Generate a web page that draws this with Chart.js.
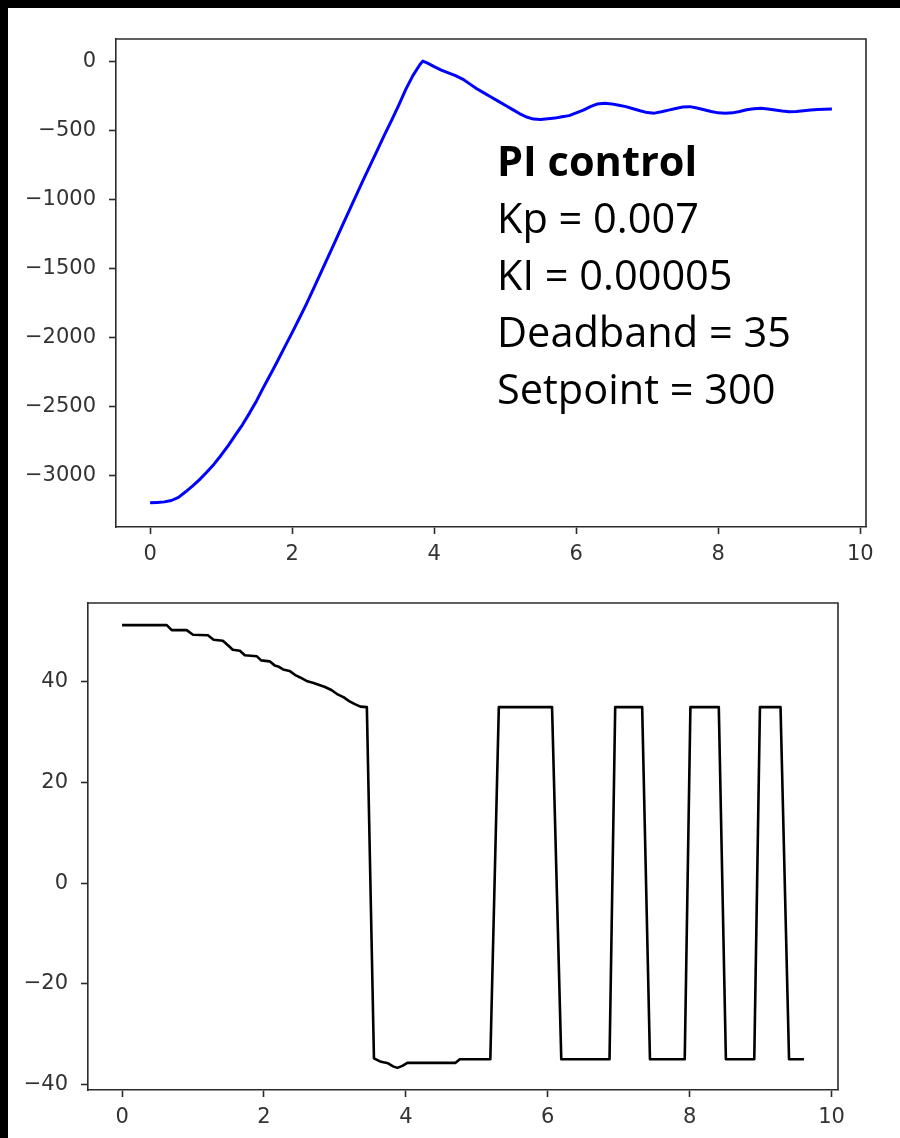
<!DOCTYPE html>
<html>
<head>
<meta charset="utf-8">
<script src="https://cdn.jsdelivr.net/npm/chart.js@4.4.1/dist/chart.umd.min.js"></script>
<style>
  html, body { margin: 0; padding: 0; background: #fff; }
  #page { position: relative; width: 900px; height: 1138px; overflow: hidden; background: #fff; }
  #posChart { position: absolute; left: 0; top: 0; }
  #outChart { position: absolute; left: 0; top: 560px; }
  .edge-top { position: absolute; left: 0; top: 0; width: 900px; height: 8px; background: #000; }
  .edge-left { position: absolute; left: 0; top: 0; width: 8px; height: 1138px; background: #000; }
  #note {
    position: absolute; left: 497px; top: 132px;
    font-family: "Open Sans", Lato, sans-serif; font-size: 41.5px; line-height: 57px;
    color: #000; white-space: nowrap;
  }
  #note b { font-weight: 700; }
</style>
</head>
<body>
<div id="page">
  <canvas id="posChart" width="900" height="560"></canvas>
  <canvas id="outChart" width="900" height="578"></canvas>
  <div id="note"><b>PI control</b><br>Kp = 0.007<br>KI = 0.00005<br>Deadband = 35<br>Setpoint = 300</div>
  <div class="edge-top"></div>
  <div class="edge-left"></div>
</div>
<script>
// Position response (time in s)
const posTime = [
  0.00, 0.10, 0.20, 0.30, 0.40, 0.50, 0.60, 0.70, 0.80, 0.90,
  1.00, 1.10, 1.20, 1.30, 1.40, 1.50, 1.60, 1.70, 1.80, 1.90,
  2.00, 2.10, 2.20, 2.30, 2.40, 2.50, 2.60, 2.70, 2.80, 2.90,
  3.00, 3.10, 3.20, 3.30, 3.40, 3.50, 3.60, 3.70, 3.80, 3.84,
  3.90, 4.00, 4.10, 4.20, 4.30, 4.40, 4.50, 4.60, 4.70, 4.80,
  4.90, 5.00, 5.10, 5.20, 5.30, 5.40, 5.50, 5.60, 5.70, 5.80,
  5.90, 6.00, 6.10, 6.20, 6.30, 6.40, 6.50, 6.60, 6.70, 6.80,
  6.90, 7.00, 7.10, 7.20, 7.30, 7.40, 7.50, 7.60, 7.70, 7.80,
  7.90, 8.00, 8.10, 8.20, 8.30, 8.40, 8.50, 8.60, 8.70, 8.80,
  8.90, 9.00, 9.10, 9.20, 9.30, 9.40, 9.50, 9.60
];
const posValue = [
  -3195, -3192, -3188, -3178, -3155, -3115, -3072, -3025, -2972, -2915,
  -2850, -2780, -2705, -2630, -2545, -2455, -2355, -2260, -2162, -2062,
  -1962, -1860, -1755, -1645, -1532, -1420, -1308, -1195, -1082, -970,
  -858, -748, -640, -530, -425, -315, -200, -100, -20, 5,
  -8, -35, -60, -80, -100, -125, -160, -195, -225, -255,
  -285, -315, -345, -375, -400, -415, -418, -412, -408, -398,
  -390, -370, -350, -325, -305, -300, -305, -315, -325, -340,
  -355, -368, -372, -362, -350, -338, -328, -325, -335, -348,
  -360, -370, -373, -370, -360, -348, -340, -337, -342, -350,
  -357, -362, -360, -355, -350, -346, -343, -342
];

// Controller output (time in s)
const outTime = [
  0.00, 0.63, 0.70, 0.91, 1.00, 1.21, 1.29, 1.42, 1.50, 1.56,
  1.66, 1.73, 1.90, 1.96, 2.08, 2.15, 2.20, 2.27, 2.36, 2.45,
  2.51, 2.60, 2.70, 2.78, 2.86, 2.95, 3.03, 3.12, 3.20, 3.28,
  3.36, 3.45, 3.55, 3.65, 3.75, 3.82, 3.88, 3.95, 4.02, 4.70,
  4.76, 5.19, 5.31, 6.06, 6.19, 6.87, 6.95, 7.33, 7.44, 7.93,
  8.01, 8.41, 8.51, 8.91, 8.99, 9.28, 9.40, 9.61
];
const outValue = [
  51.3, 51.3, 50.3, 50.3, 49.4, 49.3, 48.4, 48.2, 47.2, 46.4,
  46.2, 45.3, 45.1, 44.3, 44.1, 43.3, 43.1, 42.5, 42.2, 41.3,
  40.9, 40.2, 39.8, 39.4, 39.0, 38.4, 37.6, 37.0, 36.2, 35.6,
  35.1, 35.0, -34.8, -35.5, -35.8, -36.4, -36.7, -36.3, -35.7, -35.7,
  -35.0, -35.0, 35.0, 35.0, -35.0, -35.0, 35.0, 35.0, -35.0, -35.0,
  35.0, 35.0, -35.0, -35.0, 35.0, 35.0, -35.0, -35.0
];

// Tick labels
const xTicks = [0, 2, 4, 6, 8, 10];
const posYTicks = [0, -500, -1000, -1500, -2000, -2500, -3000];
const outYTicks = [40, 20, 0, -20, -40];

const AXIS_COLOR = '#2b2b2b';
const LABEL_COLOR = '#333';
const TICK_FONT = { family: 'DejaVu Sans', size: 21 };

function fmt(v) {
  return v < 0 ? '\u2212' + Math.abs(v) : String(v);
}

// Top and right spines to close the axes box
const boxPlugin = {
  id: 'axesBox',
  afterDraw(chart) {
    const { ctx, chartArea: a } = chart;
    ctx.save();
    ctx.strokeStyle = AXIS_COLOR;
    ctx.lineWidth = 1.6;
    ctx.beginPath();
    ctx.moveTo(a.left, a.top);
    ctx.lineTo(a.right, a.top);
    ctx.lineTo(a.right, a.bottom);
    ctx.stroke();
    ctx.restore();
  }
};

function axis(min, max, ticks, fitKey, fitVal, pad) {
  return {
    type: 'linear',
    min: min,
    max: max,
    afterBuildTicks: s => { s.ticks = ticks.map(v => ({ value: v })); },
    afterFit: s => { s[fitKey] = fitVal; },
    grid: {
      display: true, drawOnChartArea: false, drawTicks: true,
      tickLength: 7, tickColor: AXIS_COLOR, tickWidth: 1.6
    },
    border: { display: true, color: AXIS_COLOR, width: 1.6 },
    ticks: {
      font: TICK_FONT, color: LABEL_COLOR, padding: pad,
      maxRotation: 0, autoSkip: false,
      callback: v => fmt(v)
    }
  };
}

function makeChart(id, times, values, color, width, xr, yr, yTicks, pad, xHeight, yWidth) {
  return new Chart(document.getElementById(id), {
    type: 'line',
    data: {
      datasets: [{
        data: times.map((t, i) => ({ x: t, y: values[i] })),
        borderColor: color,
        borderWidth: width,
        pointRadius: 0,
        tension: 0,
        fill: false,
        borderJoinStyle: 'round',
        borderCapStyle: 'butt'
      }]
    },
    options: {
      responsive: false,
      animation: false,
      devicePixelRatio: 1,
      layout: { padding: pad },
      plugins: { legend: { display: false }, tooltip: { enabled: false } },
      scales: {
        x: axis(xr[0], xr[1], xTicks, 'height', xHeight, 8),
        y: axis(yr[0], yr[1], yTicks, 'width', yWidth, 13)
      }
    },
    plugins: [boxPlugin]
  });
}

makeChart('posChart', posTime, posValue, '#0000ff', 3,
  [-0.48, 10.08], [-3370, 165], posYTicks,
  { top: 39, right: 34, left: 0, bottom: 0 }, 33, 116);

makeChart('outChart', outTime, outValue, '#000000', 2.6,
  [-0.48, 10.09], [-41.1, 55.7], outYTicks,
  { top: 43, right: 62, left: 0, bottom: 0 }, 48, 88);
</script>
</body>
</html>
